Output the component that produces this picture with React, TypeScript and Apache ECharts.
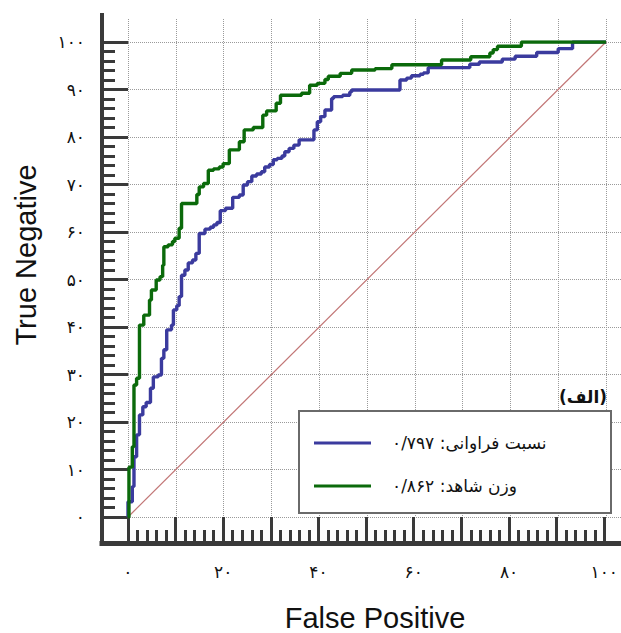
import React, { useEffect, useRef } from 'react';
import * as echarts from 'echarts';

const seriesNames = ['نسبت فراوانی: ۰/۷۹۷', 'وزن شاهد: ۰/۸۶۲'];
const panelLabel = '(الف)';
const xAxisTitle = 'False Positive';
const yAxisTitle = 'True Negative';
const faDigits = '۰۱۲۳۴۵۶۷۸۹';
const xLabelValues = [0, 20, 40, 60, 80, 100];
const yLabelValues = [0, 10, 20, 30, 40, 50, 60, 70, 80, 90, 100];
const majorTickValues = [0, 10, 20, 30, 40, 50, 60, 70, 80, 90, 100];
const minorTickValues = [
  2, 4, 6, 8, 12, 14, 16, 18, 22, 24, 26, 28, 32, 34, 36, 38, 42, 44, 46, 48,
  52, 54, 56, 58, 62, 64, 66, 68, 72, 74, 76, 78, 82, 84, 86, 88, 92, 94, 96, 98,
];

// ROC corner points [false positive %, true negative %] (top of each vertical rise)
const frequencyRatio: [number, number][] = [
  [0, 0], [0, 3.2], [0.9, 6.4], [1.25, 12.7], [1.8, 17.3], [2.4, 21.5], [3.1, 23.2],
  [3.8, 24.1], [4.7, 27.1], [5.3, 29.5], [6.3, 29.9], [7.0, 33.4], [7.5, 35.2],
  [8.1, 39.4], [9.1, 40.4], [9.5, 43.6], [10.2, 44.5], [10.7, 46.4], [11.2, 50.9],
  [11.9, 52], [12.6, 53.5], [13.5, 54.1], [14.2, 55.5], [14.9, 59.7], [16.1, 60.6],
  [17.2, 61], [17.9, 61.5], [18.6, 62], [19.3, 64.5], [20.4, 65], [21.9, 67.3],
  [23.3, 67.8], [24.1, 69.9], [25, 70.6], [25.9, 71.8], [26.9, 72.2], [27.9, 72.7],
  [28.6, 73.7], [29.6, 74.2], [30.4, 75.2], [31.2, 75.5], [32.2, 76], [32.8, 76.9],
  [33.7, 77.6], [34.7, 78.3], [35.8, 79.4], [38.9, 81.5], [39.6, 83.2], [40.3, 84.3],
  [41.2, 85.7], [42.6, 88.1], [43.0, 88.5], [44.9, 88.8], [46.4, 89.5], [46.8, 89.9],
  [56.9, 92], [58.3, 92.4], [59.3, 92.9], [61.1, 93.2], [61.8, 93.5], [62.8, 94.6],
  [71.5, 95.3], [73.5, 95.8], [78.3, 96.4], [81, 97.0], [85.5, 97.8], [90, 98.6],
  [93, 100], [100, 100],
];

const evidenceWeight: [number, number][] = [
  [0, 0], [0.2, 10.5], [0.9, 14.8], [1.25, 27.8], [1.8, 29.2], [2.4, 40.4], [3.3, 42.5],
  [4.5, 45.7], [4.9, 47.8], [5.9, 49.9], [6.7, 50.6], [7.25, 53], [7.5, 56.9],
  [8.4, 57.3], [9.3, 58], [9.8, 58.7], [10.7, 60.8], [11.2, 66], [14.4, 67.9],
  [14.9, 69.5], [15.8, 70.2], [16.8, 73], [17.9, 73.3], [19.1, 73.7], [19.9, 74.4],
  [21.2, 77.3], [23.3, 79], [24.3, 81.5], [26.2, 82], [28.2, 84.6], [29, 85.5],
  [31, 87.1], [31.9, 88.8], [36.3, 89.2], [38.0, 90.9], [39.6, 91.3], [41.2, 92.1],
  [41.9, 92.8], [44.4, 93.4], [46.8, 94.1], [51.7, 94.4], [55.2, 95.2], [65.6, 96.2],
  [71.7, 96.9], [75.7, 97.7], [76.4, 98.4], [77.3, 99.1], [82.3, 100], [100, 100],
];

const chanceLine: [number, number][] = [[0, 0], [100, 100]];

const toFa = (n: number) => String(Math.round(n)).replace(/\d/g, (d) => faDigits[+d]);

const AX = '#3a3a3a';
const FA_FONT = 'Tahoma, "DejaVu Sans", sans-serif';
const EN_FONT = '"Liberation Sans", Arial, sans-serif';

// frame extents (axis lines sit outside the 0..100 data box)
const FX_MIN = -26 / 4.78;
const FX_MAX = 493 / 4.78;
const FY_MIN = -26 / 4.75;
const FY_MAX = 502 / 4.75;

export default function App() {
  const ref = useRef<HTMLDivElement>(null);
  useEffect(() => {
    if (!ref.current) return;
    const chart = echarts.init(ref.current, undefined, { renderer: 'svg' });
    const hidden = {
      type: 'value' as const,
      axisLine: { show: false, onZero: false },
      axisTick: { show: false },
      axisLabel: { show: false },
      splitLine: { show: false },
    };
    const gridLines = {
      show: true, showMinLine: true, showMaxLine: false,
      lineStyle: { type: 'dotted' as const, color: '#9a9a9a', width: 1 },
    };
    chart.setOption({
      animation: false,
      backgroundColor: '#ffffff',
      grid: [
        { left: 128, right: 15, top: 42, bottom: 116 },
        { left: 128, right: 0, top: 19, bottom: 116 },
        { left: 102, right: 0, top: 15, bottom: 90 },
      ],
      xAxis: [
        { ...hidden, gridIndex: 0, min: 0, max: 100 },
        { ...hidden, gridIndex: 1, min: 0, max: 103.14, interval: 10, splitLine: gridLines },
        {
          gridIndex: 2, type: 'value', min: FX_MIN, max: FX_MAX, position: 'bottom',
          axisLine: { show: true, onZero: false, lineStyle: { color: AX, width: 5, cap: 'square' } },
          axisTick: {
            show: true, inside: true, length: 26, customValues: majorTickValues,
            lineStyle: { color: AX, width: 3 },
          },
          axisLabel: {
            show: true, customValues: xLabelValues, margin: 20, fontSize: 17,
            color: '#111', fontFamily: FA_FONT, formatter: (v: number) => toFa(v),
          },
          splitLine: { show: false },
        },
        {
          gridIndex: 2, type: 'value', min: FX_MIN, max: FX_MAX, position: 'bottom',
          axisLine: { show: false, onZero: false },
          axisTick: {
            show: true, inside: true, length: 13, customValues: minorTickValues,
            lineStyle: { color: AX, width: 3 },
          },
          axisLabel: { show: false },
          splitLine: { show: false },
        },
      ],
      yAxis: [
        { ...hidden, gridIndex: 0, min: 0, max: 100 },
        { ...hidden, gridIndex: 1, min: 0, max: 104.84, interval: 10, splitLine: gridLines },
        {
          gridIndex: 2, type: 'value', min: FY_MIN, max: FY_MAX, position: 'left',
          axisLine: { show: true, onZero: false, lineStyle: { color: AX, width: 4, cap: 'square' } },
          axisTick: {
            show: true, inside: true, length: 26, customValues: majorTickValues,
            lineStyle: { color: AX, width: 3 },
          },
          axisLabel: {
            show: true, customValues: yLabelValues, margin: 17, fontSize: 17,
            color: '#111', fontFamily: FA_FONT, formatter: (v: number) => toFa(v),
          },
          splitLine: { show: false },
        },
        {
          gridIndex: 2, type: 'value', min: FY_MIN, max: FY_MAX, position: 'left',
          axisLine: { show: false, onZero: false },
          axisTick: {
            show: true, inside: true, length: 13, customValues: minorTickValues,
            lineStyle: { color: AX, width: 3 },
          },
          axisLabel: { show: false },
          splitLine: { show: false },
        },
      ],
      legend: {
        data: seriesNames,
        orient: 'vertical',
        left: 314,
        top: 433,
        padding: 0,
        itemWidth: 57,
        itemHeight: 3,
        itemGap: 23,
        icon: 'rect',
        selectedMode: false,
        z: 20,
        textStyle: {
          fontSize: 17, fontFamily: FA_FONT, color: '#111', lineHeight: 20,
          padding: [0, 0, 0, 16],
        },
      },
      graphic: [
        {
          type: 'rect', z: 10,
          shape: { x: 299, y: 411, width: 312, height: 102 },
          style: { fill: '#ffffff', stroke: '#6a6a6a', lineWidth: 2 },
        },
        {
          type: 'text', z: 10, x: 607, y: 397,
          style: {
            text: panelLabel, fontSize: 17, fontWeight: 'bold', fontFamily: FA_FONT,
            fill: '#111', align: 'right', verticalAlign: 'middle',
          },
        },
        {
          type: 'text', x: 375, y: 618,
          style: {
            text: xAxisTitle, fontSize: 29, fontFamily: EN_FONT, fill: '#111',
            align: 'center', verticalAlign: 'middle',
          },
        },
        {
          type: 'text', x: 26, y: 255, rotation: Math.PI / 2,
          style: {
            text: yAxisTitle, fontSize: 29, fontFamily: EN_FONT, fill: '#111',
            align: 'center', verticalAlign: 'middle',
          },
        },
      ],
      series: [
        {
          name: 'chance', type: 'line', xAxisIndex: 0, yAxisIndex: 0, data: chanceLine,
          symbol: 'none', silent: true, z: 2,
          lineStyle: { color: '#c27676', width: 1.2 },
        },
        {
          name: seriesNames[0], type: 'line', xAxisIndex: 0, yAxisIndex: 0,
          data: frequencyRatio, step: 'end', symbol: 'none', showSymbol: false, z: 3,
          lineStyle: { color: '#3b3b9e', width: 3.4 }, itemStyle: { color: '#3b3b9e' },
        },
        {
          name: seriesNames[1], type: 'line', xAxisIndex: 0, yAxisIndex: 0,
          data: evidenceWeight, step: 'end', symbol: 'none', showSymbol: false, z: 4,
          lineStyle: { color: '#0b6a0b', width: 3.4 }, itemStyle: { color: '#0b6a0b' },
        },
      ],
    });
    return () => chart.dispose();
  }, []);
  return (
    <div
      ref={ref}
      style={{ position: 'fixed', left: 0, top: 0, width: 621, height: 633, background: '#fff' }}
    />
  );
}
